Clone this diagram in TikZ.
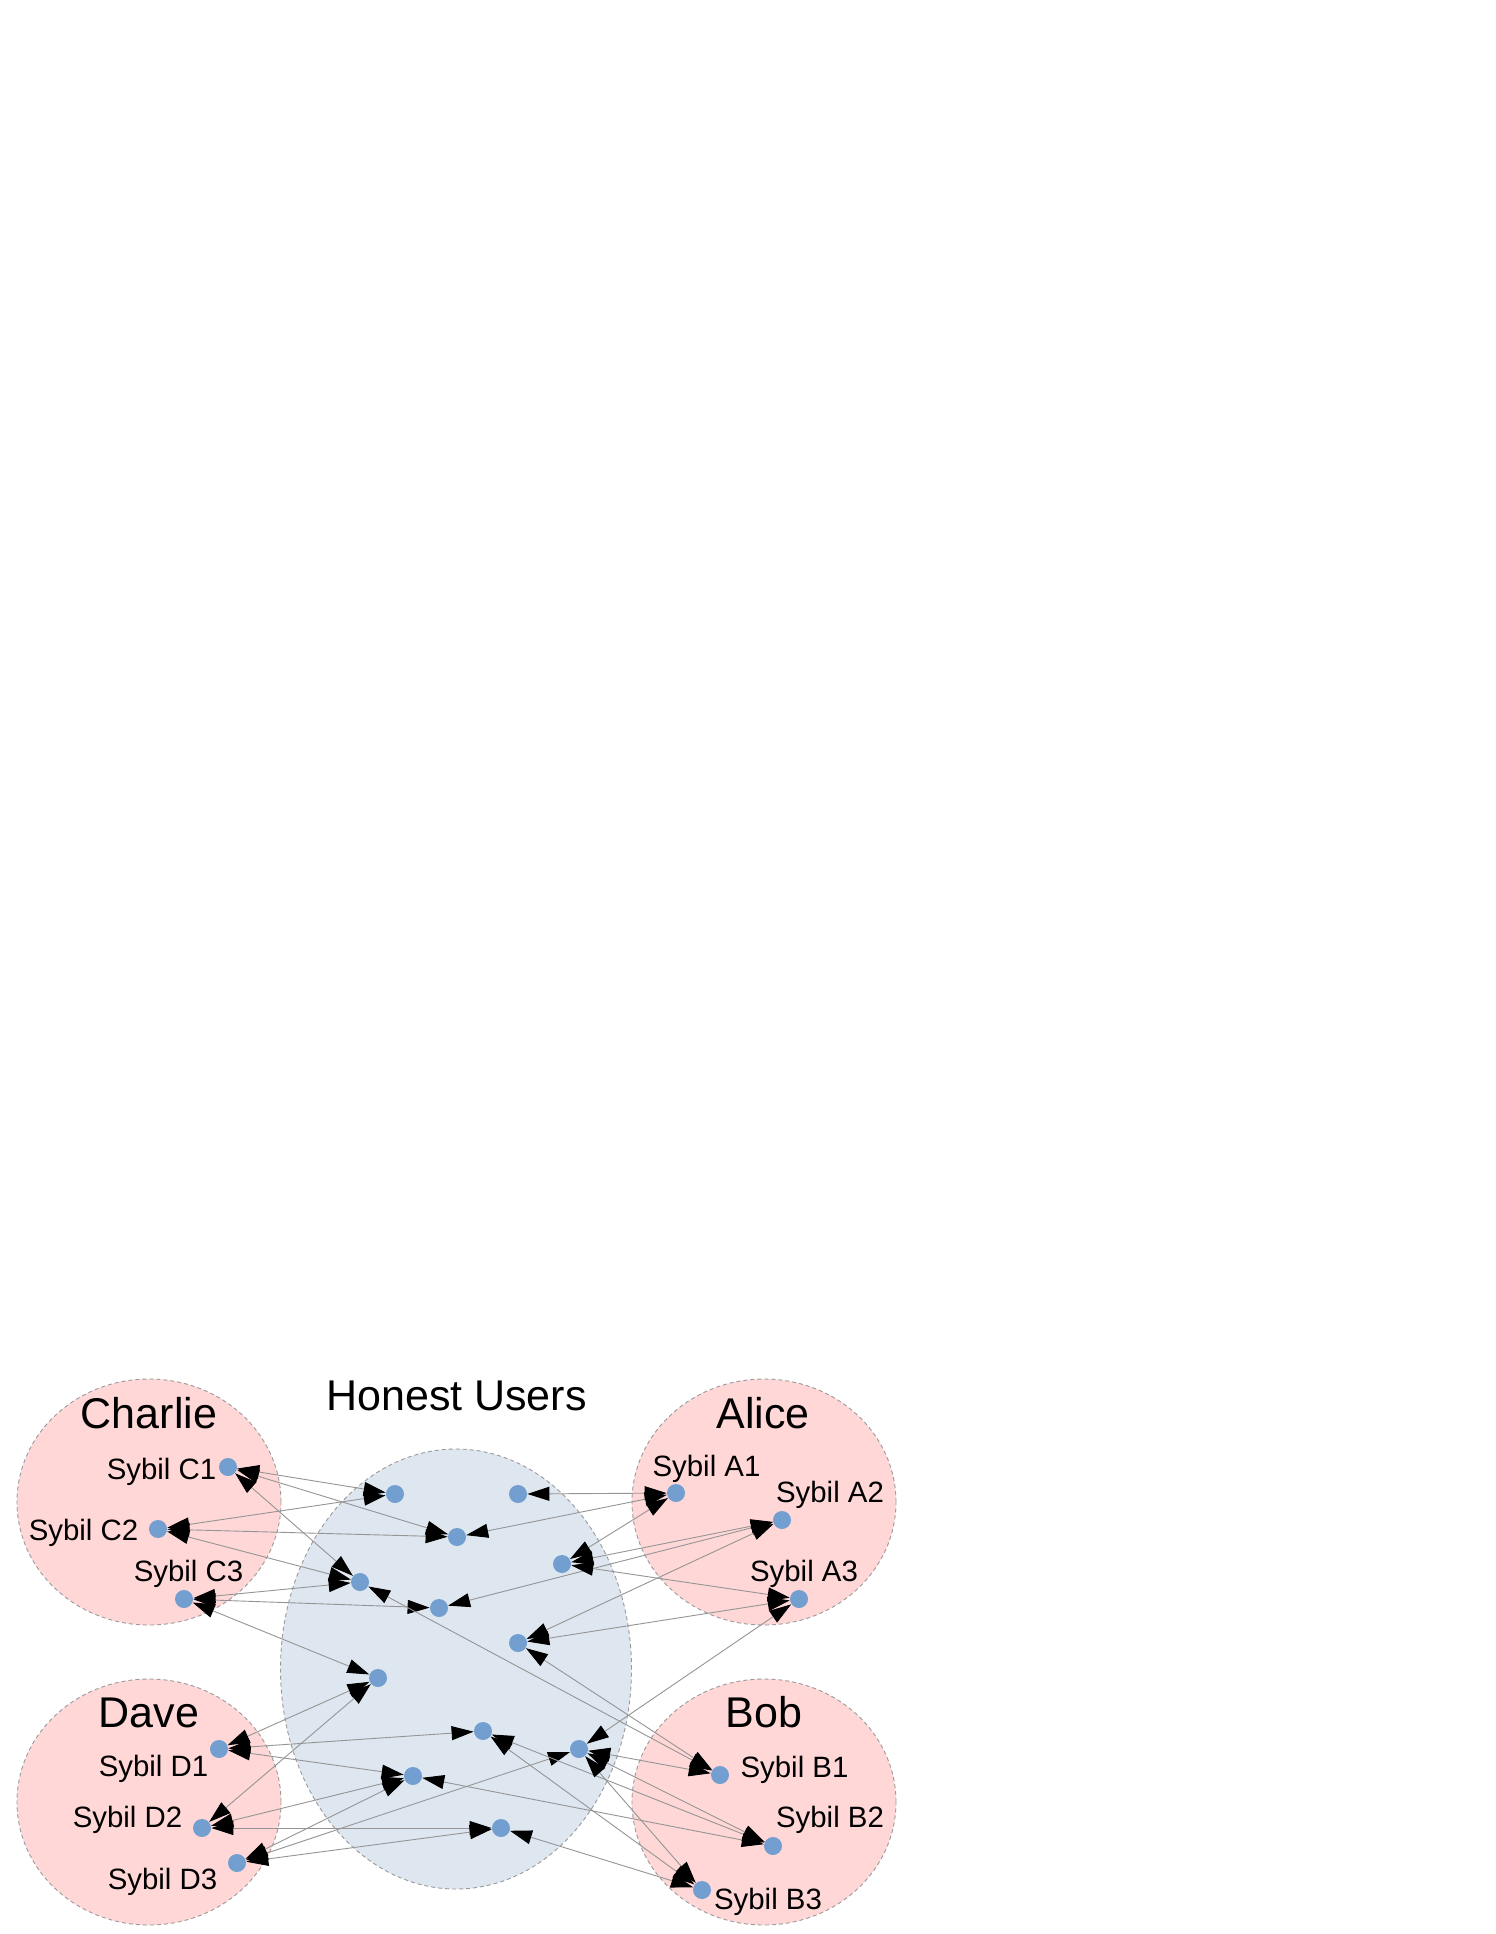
\documentclass[tikz,border=0pt]{standalone}
\usepackage{fontspec}
\setmainfont{Liberation Sans}
\usetikzlibrary{arrows.meta}
\definecolor{sybfill}{HTML}{FFD7D7}
\definecolor{honfill}{HTML}{DEE6EF}
\definecolor{dotblue}{HTML}{729FCF}
\definecolor{edgegray}{HTML}{959595}
\definecolor{bordergray}{HTML}{9A9A9A}
\begin{document}
\begin{tikzpicture}[x=0.5pt,y=-0.5pt,
  grp/.style={draw=bordergray, line width=0.45pt, dash pattern=on 2pt off 1.5pt},
  dot/.style={circle, fill=dotblue, inner sep=0pt, minimum size=9pt},
  lnk/.style={draw=edgegray, line width=0.45pt,
    {Triangle[length=11pt,width=7pt,color=black]}-{Triangle[length=11pt,width=7pt,color=black]}},
  big/.style={anchor=base, inner sep=0pt, font=\fontsize{21.5pt}{26pt}\selectfont},
  lbl/.style={anchor=base, inner sep=0pt, font=\fontsize{14.7pt}{17pt}\selectfont}]
\useasboundingbox (0,0) rectangle (1495,1934);
\fill[white] (0,0) rectangle (1495,1934);

% groups
\path[grp, fill=sybfill] (149,1502) ellipse [x radius=66pt, y radius=61.5pt];
\path[grp, fill=sybfill] (764,1502) ellipse [x radius=66pt, y radius=61.5pt];
\path[grp, fill=sybfill] (149,1802) ellipse [x radius=66pt, y radius=61.5pt];
\path[grp, fill=sybfill] (764,1802) ellipse [x radius=66pt, y radius=61.5pt];
\path[grp, fill=honfill] (456,1669) ellipse [x radius=87.75pt, y radius=110pt];

% titles
\node[big] (tC) at (149,1428) {Charlie};
\node[big] (tA) at (763,1428) {Alice};
\node[big] (tD) at (149,1727) {Dave};
\node[big] (tB) at (764,1727) {Bob};
\node[big] (tH) at (456.5,1410) {Honest Users};

% sybil labels
\node[lbl] (lC1) at (161.5,1479) {Sybil C1};
\node[lbl] (lC2) at (83.5,1540) {Sybil C2};
\node[lbl] (lC3) at (188.5,1581.5) {Sybil C3};
\node[lbl] (lA1) at (706.5,1476.5) {Sybil A1};
\node[lbl] (lA2) at (830,1502.5) {Sybil A2};
\node[lbl] (lA3) at (804,1581.5) {Sybil A3};
\node[lbl] (lD1) at (153.5,1776) {Sybil D1};
\node[lbl] (lD2) at (127.5,1827.5) {Sybil D2};
\node[lbl] (lD3) at (162.5,1889) {Sybil D3};
\node[lbl] (lB1) at (794.5,1777.5) {Sybil B1};
\node[lbl] (lB2) at (830,1827.5) {Sybil B2};
\node[lbl] (lB3) at (768,1909) {Sybil B3};

% sybil nodes
\node[dot] (C1) at (228,1467) {};
\node[dot] (C2) at (158,1529) {};
\node[dot] (C3) at (184,1599) {};
\node[dot] (A1) at (676,1493) {};
\node[dot] (A2) at (782,1520) {};
\node[dot] (A3) at (799,1599) {};
\node[dot] (D1) at (219,1749) {};
\node[dot] (D2) at (202,1828) {};
\node[dot] (D3) at (237,1863) {};
\node[dot] (B1) at (720,1775) {};
\node[dot] (B2) at (773,1846) {};
\node[dot] (B3) at (702,1890) {};

% honest nodes
\node[dot] (H1) at (395,1494) {};
\node[dot] (H2) at (518,1494) {};
\node[dot] (H3) at (457,1537) {};
\node[dot] (H4) at (562,1564) {};
\node[dot] (H5) at (360,1582) {};
\node[dot] (H6) at (439,1608) {};
\node[dot] (H7) at (518,1643) {};
\node[dot] (H8) at (378,1678) {};
\node[dot] (H9) at (483,1731) {};
\node[dot] (H10) at (579,1749) {};
\node[dot] (H11) at (413,1776) {};
\node[dot] (H12) at (501,1828) {};

% links
\foreach \s/\h in {C1/H1,C1/H3,C1/H5,C2/H1,C2/H3,C2/H5,C3/H5,C3/H6,C3/H8,
                   A1/H2,A1/H3,A1/H4,A2/H4,A2/H6,A2/H7,A3/H4,A3/H7,A3/H10,
                   D1/H8,D1/H9,D1/H11,D2/H8,D2/H11,D2/H12,D3/H10,D3/H11,D3/H12,
                   B1/H5,B1/H7,B1/H10,B2/H9,B2/H10,B2/H11,B3/H9,B3/H10,B3/H12}
  \draw[lnk] (\s) -- (\h);
\end{tikzpicture}
\end{document}
